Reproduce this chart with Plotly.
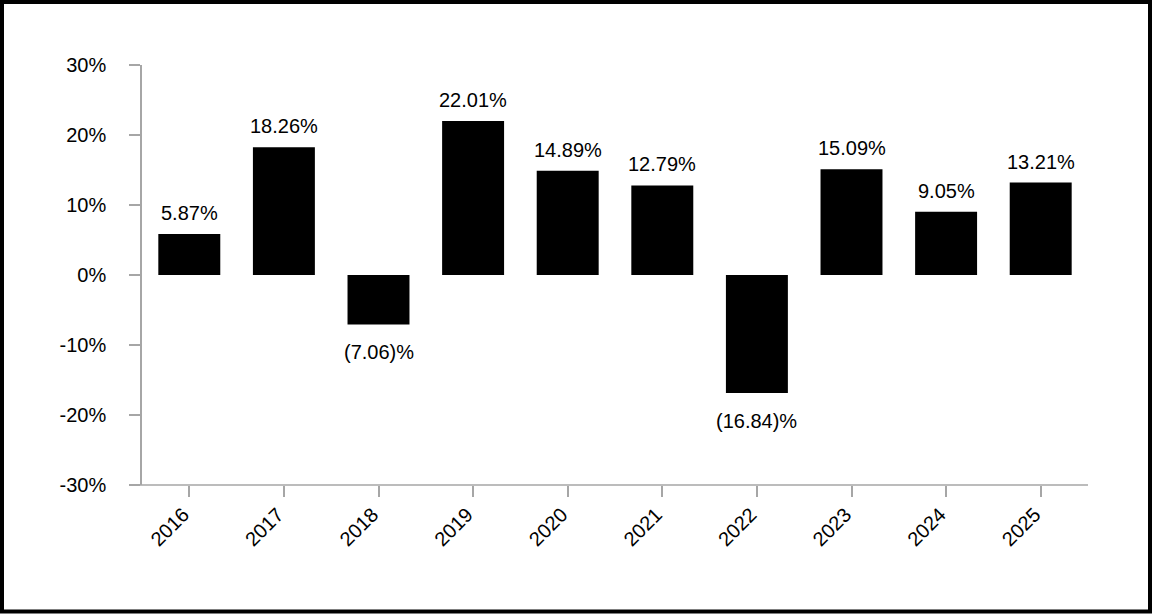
import plotly.graph_objects as go

years = ["2016", "2017", "2018", "2019", "2020", "2021", "2022", "2023", "2024", "2025"]
returns = [5.87, 18.26, -7.06, 22.01, 14.89, 12.79, -16.84, 15.09, 9.05, 13.21]
y_ticks = [-30, -20, -10, 0, 10, 20, 30]
y_tick_labels = ["-30%", "-20%", "-10%", "0%", "10%", "20%", "30%"]


def fmt(v):
    return f"{v:.2f}%" if v >= 0 else f"({abs(v):.2f})%"


FAMILY = "Liberation Sans"
FSIZE = 20
AXIS_GRAY = "#a6a6a6"

fig = go.Figure()
fig.add_trace(go.Bar(x=years, y=returns, marker=dict(color="black", line=dict(width=0)),
                     width=0.655, hoverinfo="skip"))

# category axis: annotation x given as category index
for i, v in enumerate(returns):
    fig.add_annotation(x=i, y=v, xref="x", yref="y", text=fmt(v), showarrow=False,
                       font=dict(family=FAMILY, size=FSIZE, color="black"),
                       yanchor="bottom" if v >= 0 else "top",
                       yshift=8 if v >= 0 else -15)

L, R, T, B = 142, 64, 65, 129
W, H = 1152, 614
pw, ph = W - L - R, H - T - B


def px_x(p):
    return (p - L) / pw


def px_y(p):
    return (H - B - p) / ph


fig.update_layout(
    width=W, height=H,
    margin=dict(l=L, r=R, t=T, b=B),
    paper_bgcolor="white", plot_bgcolor="white",
    showlegend=False,
    font=dict(family=FAMILY, size=FSIZE, color="black"),
)
fig.update_xaxes(type="category", range=[-0.5, 9.5], showgrid=False, zeroline=False,
                 showline=False, ticks="outside", ticklen=11, tickwidth=1.5, tickcolor=AXIS_GRAY,
                 tickangle=-45, tickfont=dict(family=FAMILY, size=FSIZE, color="black"),
                 ticklabelshift=-6, ticklabelstandoff=-2)
fig.update_yaxes(range=[-30, 30], tickmode="array", tickvals=y_ticks, ticktext=y_tick_labels,
                 showgrid=False, zeroline=False, showline=True, linecolor=AXIS_GRAY, linewidth=1.5,
                 ticks="outside", ticklen=11, tickwidth=1.5, tickcolor=AXIS_GRAY,
                 tickfont=dict(family=FAMILY, size=FSIZE, color="black"),
                 ticklabelstandoff=19)
fig.add_shape(type="line", xref="paper", yref="paper", x0=px_x(131), x1=1, y0=0, y1=0,
              line=dict(color=AXIS_GRAY, width=1.5))
fig.add_shape(type="rect", xref="paper", yref="paper", x0=px_x(2), x1=px_x(1150),
              y0=px_y(611.5), y1=px_y(2), line=dict(color="black", width=4),
              fillcolor="rgba(0,0,0,0)", layer="above")

fig.write_html("out.html", config={"displayModeBar": False},
               post_script="document.body.style.margin='0';")
